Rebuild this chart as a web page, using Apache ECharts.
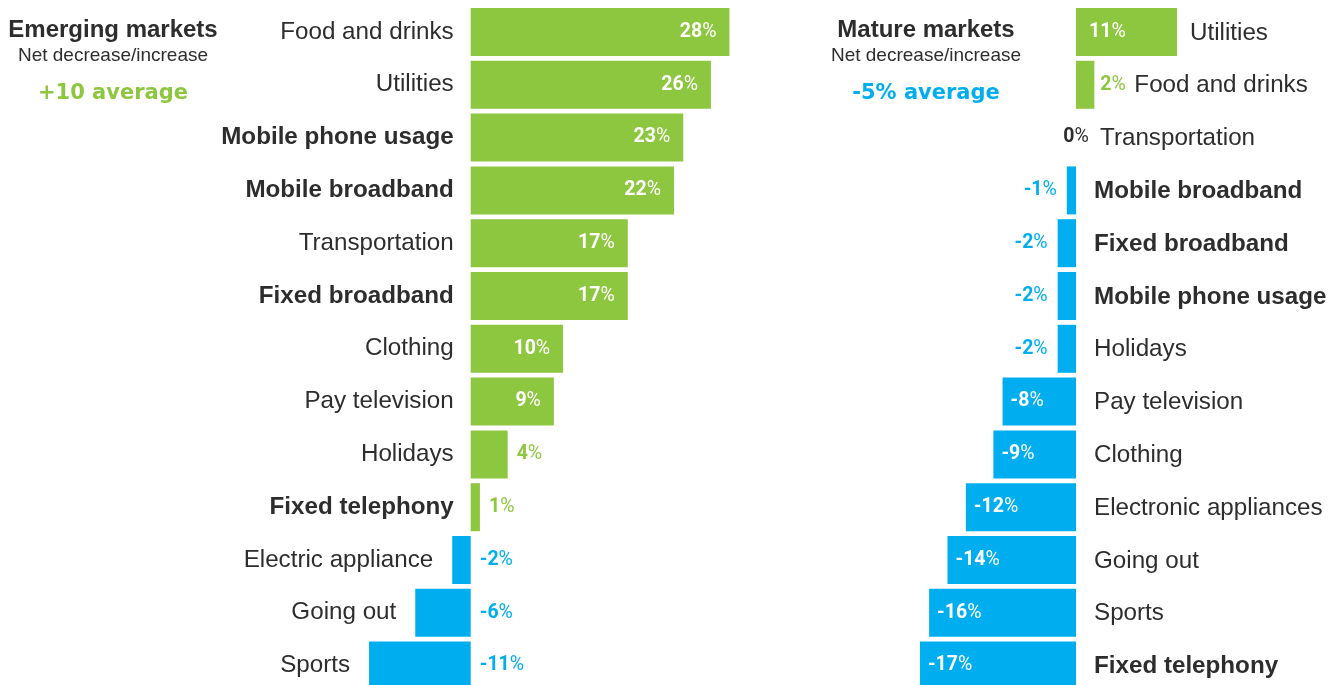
<!DOCTYPE html>
<html>
<head>
<meta charset="utf-8">
<script src="https://cdn.jsdelivr.net/npm/echarts@6/dist/echarts.min.js"></script>
<style>
  html, body { margin: 0; padding: 0; background: #ffffff; overflow: hidden; }
  /* the last row runs slightly past the bottom edge of the page */
  #chart { width: 1330px; height: 700px; }
</style>
</head>
<body>
<div id="chart"></div>
<script>
// Net decrease/increase in spending, by category
const emergingCategories = ['Food and drinks', 'Utilities', 'Mobile phone usage', 'Mobile broadband',
  'Transportation', 'Fixed broadband', 'Clothing', 'Pay television', 'Holidays', 'Fixed telephony',
  'Electric appliance', 'Going out', 'Sports'];
const emergingValues = [28, 26, 23, 22, 17, 17, 10, 9, 4, 1, -2, -6, -11];

const matureCategories = ['Utilities', 'Food and drinks', 'Transportation', 'Mobile broadband',
  'Fixed broadband', 'Mobile phone usage', 'Holidays', 'Pay television', 'Clothing',
  'Electronic appliances', 'Going out', 'Sports', 'Fixed telephony'];
const matureValues = [11, 2, 0, -1, -2, -2, -2, -8, -9, -12, -14, -16, -17];

// Telecom categories are set in bold
const telecomCategories = ['Mobile phone usage', 'Mobile broadband', 'Fixed broadband', 'Fixed telephony'];

const emergingAverage = '+10 average';
const matureAverage = '-5% average';

const GREEN = '#8dc63f';
const BLUE = '#00aeef';
const INK = '#2d2d2d';
const FONT = '"Liberation Sans", Arial, sans-serif';
const NUM_FONT = 'Roboto, "Liberation Sans", sans-serif';
const AVG_FONT = '"DejaVu Sans", sans-serif';
const NAME_SIZE = 24.2;
const VALUE_SIZE = 19.5;

function valueRich(color) {
  return {
    n: { fontFamily: NUM_FONT, fontWeight: 'bold', fontSize: VALUE_SIZE, color: color },
    p: { fontFamily: NUM_FONT, fontWeight: 'normal', fontSize: VALUE_SIZE, color: color }
  };
}
function valueText(v) {
  return '{n|' + v + '}{p|%}';
}
function barColor(v) { return v >= 0 ? GREEN : BLUE; }

// Emerging panel: names sit left of each bar, values at the bar end / right of zero
function emergingBarItem(v) {
  let label;
  if (v >= 9) {
    label = { position: 'insideRight', distance: 13, rich: valueRich('#ffffff') };
  } else if (v > 0) {
    label = { position: 'right', distance: 9, rich: valueRich(GREEN) };
  } else {
    label = { position: 'right', distance: 9, rich: valueRich(BLUE) };
  }
  return { value: v, itemStyle: { color: barColor(v) }, label: Object.assign({ show: true, formatter: valueText(v) }, label) };
}
function emergingNameItem(v, name) {
  return {
    value: v,
    label: {
      show: true, position: 'left', distance: v >= 0 ? 17 : 19,
      formatter: name, fontFamily: FONT, fontSize: NAME_SIZE,
      fontWeight: telecomCategories.includes(name) ? 'bold' : 'normal', color: INK
    }
  };
}

// Mature panel: names sit right of the bar / zero line, values inside or beside the bar
function matureBarItem(v) {
  let label;
  if (v >= 9) {
    label = { position: 'insideLeft', distance: 13, rich: valueRich('#ffffff') };
  } else if (v > 0) {
    label = { position: 'right', distance: 6, rich: valueRich(GREEN) };
  } else if (v === 0) {
    label = { position: 'inside', rich: valueRich(INK) };
  } else if (v <= -5) {
    label = { position: 'insideLeft', distance: 8, rich: valueRich('#ffffff') };
  } else {
    label = { position: 'left', distance: 10, rich: valueRich(BLUE) };
  }
  return { value: v, itemStyle: { color: barColor(v) }, label: Object.assign({ show: true, formatter: valueText(v) }, label) };
}
function matureNameItem(v, name) {
  let distance;
  if (v >= 9) distance = 13;
  else if (v > 0) distance = 40;
  else if (v === 0) distance = 24;
  else distance = 18;
  return {
    value: v,
    label: {
      show: true, position: 'right', distance: distance, offset: [0, 1],
      formatter: name, fontFamily: FONT, fontSize: NAME_SIZE,
      fontWeight: telecomCategories.includes(name) ? 'bold' : 'normal', color: INK
    }
  };
}

const chart = echarts.init(document.getElementById('chart'), null, { renderer: 'canvas' });

const hiddenValueAxis = (idx, min, max) => ({
  type: 'value', gridIndex: idx, min: min, max: max, show: false, splitLine: { show: false }
});
const hiddenCategoryAxis = (idx, cats) => ({
  type: 'category', gridIndex: idx, data: cats, inverse: true, show: false
});

// Panel headings: name, subtitle and average change
const graphics = [];
[[113, 'Emerging markets', emergingAverage, GREEN], [926, 'Mature markets', matureAverage, BLUE]].forEach(t => {
  const [cx, heading, average, color] = t;
  graphics.push(
    { type: 'text', style: { text: heading, x: cx, y: 30, align: 'center', verticalAlign: 'middle', font: 'bold 24px ' + FONT, fill: INK } },
    { type: 'text', style: { text: 'Net decrease/increase', x: cx, y: 56, align: 'center', verticalAlign: 'middle', font: '19px ' + FONT, fill: INK } },
    { type: 'text', style: { text: average, x: cx, y: 94, align: 'center', verticalAlign: 'middle', font: 'bold 21px ' + AVG_FONT, fill: color } }
  );
});

chart.setOption({
  animation: false,
  backgroundColor: '#ffffff',
  grid: [
    { left: 285.9, width: 462, top: 5.6, height: 686.4 },
    { left: 892.4, width: 367.2, top: 5.6, height: 686.4 }
  ],
  xAxis: [hiddenValueAxis(0, -20, 30), hiddenValueAxis(1, -20, 20)],
  yAxis: [hiddenCategoryAxis(0, emergingCategories), hiddenCategoryAxis(1, matureCategories)],
  graphic: graphics,
  series: [
    {
      type: 'bar', xAxisIndex: 0, yAxisIndex: 0, barWidth: 48, barGap: '-100%', z: 2,
      data: emergingValues.map(emergingBarItem)
    },
    {
      type: 'bar', xAxisIndex: 0, yAxisIndex: 0, barWidth: 48, barGap: '-100%', z: 3, silent: true,
      itemStyle: { color: 'rgba(0,0,0,0)' },
      data: emergingValues.map((v, i) => emergingNameItem(v, emergingCategories[i]))
    },
    {
      type: 'bar', xAxisIndex: 1, yAxisIndex: 1, barWidth: 48, barGap: '-100%', z: 2,
      data: matureValues.map(matureBarItem)
    },
    {
      type: 'bar', xAxisIndex: 1, yAxisIndex: 1, barWidth: 48, barGap: '-100%', z: 3, silent: true,
      itemStyle: { color: 'rgba(0,0,0,0)' },
      data: matureValues.map((v, i) => matureNameItem(v, matureCategories[i]))
    }
  ]
});
</script>
</body>
</html>
